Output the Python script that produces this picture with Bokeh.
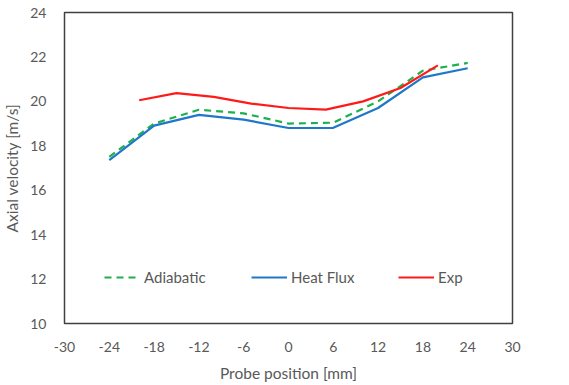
from bokeh.plotting import figure
from bokeh.models import Legend, LegendItem, FixedTicker, Range1d
from bokeh.embed import file_html
from bokeh.resources import INLINE

# Data
sim_x = [-24, -18, -12, -6, 0, 6, 12, 18, 24]
adiabatic = [17.5, 19.0, 19.62, 19.46, 19.0, 19.04, 20.0, 21.38, 21.73]
heat_flux = [17.36, 18.91, 19.39, 19.18, 18.8, 18.81, 19.7, 21.08, 21.49]
exp_x = [-20, -15, -10, -5, 0, 5, 10, 15, 20]
exp_v = [20.05, 20.37, 20.2, 19.9, 19.7, 19.63, 20.0, 20.6, 21.62]
x_ticks = [-30, -24, -18, -12, -6, 0, 6, 12, 18, 24, 30]
y_ticks = [10, 12, 14, 16, 18, 20, 22, 24]

FONT = "Lato"
GRAY = "#595959"

p = figure(width=569, height=385, output_backend="svg", toolbar_location=None,
           x_range=Range1d(-30, 30), y_range=Range1d(10, 24),
           min_border_left=61, min_border_right=57, min_border_top=12, min_border_bottom=62)
p.grid.visible = False
p.outline_line_color = "#404040"
p.outline_line_width = 1.5
p.background_fill_color = "white"
p.border_fill_color = "white"

for ax in (p.xaxis[0], p.yaxis[0]):
    ax.axis_line_color = None
    ax.major_tick_line_color = None
    ax.minor_tick_line_color = None
    ax.major_label_text_font = FONT
    ax.major_label_text_font_size = "14px"
    ax.major_label_text_color = GRAY
    ax.axis_label_text_font = FONT
    ax.axis_label_text_font_size = "15.5px"
    ax.axis_label_text_color = GRAY
    ax.axis_label_text_font_style = "normal"

p.xaxis.ticker = FixedTicker(ticks=x_ticks)
p.yaxis.ticker = FixedTicker(ticks=y_ticks)
p.xaxis.major_label_overrides = {t: str(t) for t in x_ticks}
p.yaxis.major_label_overrides = {t: str(t) for t in y_ticks}
p.xaxis.axis_label = "Probe position [mm]"
p.yaxis.axis_label = "Axial velocity [m/s]"
p.xaxis.major_label_standoff = 12
p.yaxis.major_label_standoff = 12
p.xaxis.axis_label_standoff = 9
p.yaxis.axis_label_standoff = 6

r_ad = p.line(sim_x, adiabatic, line_color="#1DB04B", line_width=2.2, line_dash="7 5")
r_hf = p.line(sim_x, heat_flux, line_color="#1F77C8", line_width=2.2)
r_ex = p.line(exp_x, exp_v, line_color="#FF1A1A", line_width=2.2)

for r, lab, xloc in [(r_ad, "Adiabatic", 40), (r_hf, "Heat Flux", 187), (r_ex, "Exp", 334)]:
    lg = Legend(items=[LegendItem(label=lab, renderers=[r])], location=(xloc, 36),
                orientation="horizontal", padding=0, margin=0, border_line_color=None,
                background_fill_alpha=0, glyph_width=36, glyph_height=20, label_standoff=4,
                label_text_font=FONT, label_text_font_size="15px", label_text_color=GRAY)
    p.add_layout(lg)

open("out.html", "w").write(file_html(p, INLINE))
